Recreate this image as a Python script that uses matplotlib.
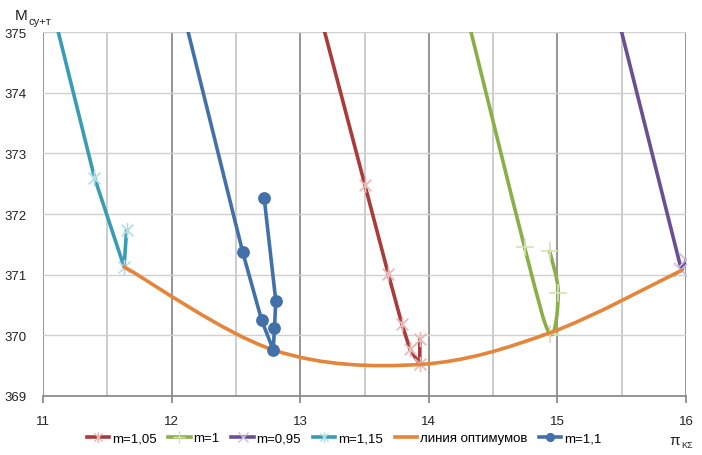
import numpy as np
import matplotlib
matplotlib.use('Agg')
from matplotlib import pyplot as plt
from matplotlib.path import Path
from matplotlib.patches import PathPatch
from matplotlib.lines import Line2D

# data (last point of each m series lies above the plot)
x_m105 = [13.93, 13.93, 13.854, 13.79, 13.685, 13.504, 13.128]
y_m105 = [369.94, 369.52, 369.77, 370.19, 371.01, 372.47, 375.5]

x_m100 = [14.94, 15.007, 14.94, 14.745, 14.27]
y_m100 = [371.39, 370.70, 370.03, 371.45, 375.5]

x_m095 = [16.0, 15.965, 15.44]
y_m095 = [371.24, 371.07, 375.5]

x_m115 = [11.65, 11.63, 11.40, 11.06]
y_m115 = [371.74, 371.13, 372.6, 375.5]

x_opt = [11.63, 12.79, 13.93, 14.94, 15.965]
y_opt = [371.13, 369.76, 369.52, 370.04, 371.07]

x_m110 = [12.72, 12.81, 12.80, 12.79, 12.70, 12.553, 12.07]
y_m110 = [372.26, 370.57, 370.12, 369.76, 370.25, 371.37, 375.5]

labels = ['m=1,05', 'm=1', 'm=0,95', 'm=1,15', 'линия оптимумов', 'm=1,1']

plt.rcParams['font.family'] = ['Liberation Sans', 'DejaVu Sans']

star = Path([(-1, -1), (1, 1), (-1, 1), (1, -1), (0, -1.3), (0, 1.3)],
            [Path.MOVETO, Path.LINETO, Path.MOVETO, Path.LINETO, Path.MOVETO, Path.LINETO])


def line_path(xs, ys, smooth):
    # excel-like smoothed line: bezier segments with catmull-rom tangents
    pts = np.column_stack([xs, ys])
    n = len(pts)
    if not smooth:
        return Path(pts)
    verts = [pts[0]]
    codes = [Path.MOVETO]
    for i in range(n - 1):
        p0 = pts[i - 1] if i > 0 else pts[i]
        p1 = pts[i]
        p2 = pts[i + 1]
        p3 = pts[i + 2] if i + 2 < n else pts[i + 1]
        verts += [p1 + (p2 - p0) / 6, p2 - (p3 - p1) / 6, p2]
        codes += [Path.CURVE4] * 3
    return Path(verts, codes)


series = [
    (x_m105, y_m105, '#A83C3A', '#e8b8b6', star, 11, False),
    (x_m100, y_m100, '#8AAE48', '#d3e3b5', '+', 13, True),
    (x_m095, y_m095, '#6C4F93', '#c9bcdb', 'x', 10, False),
    (x_m115, y_m115, '#3A9CB4', '#b2dce7', star, 11, False),
    (x_opt, y_opt, '#E5853A', None, None, 0, True),
    (x_m110, y_m110, '#4270A8', '#4270A8', 'o', 8, False),
]

fig = plt.figure(figsize=(7.02, 4.56), dpi=100)
ax = fig.add_axes([0.0613, 0.1294, 0.9159, 0.7982])

handles = []
for i, (xs, ys, col, mcol, mk, ms, smooth) in enumerate(series):
    patch = PathPatch(line_path(xs, ys, smooth), fill=False, edgecolor=col, lw=2.6,
                      capstyle='round', joinstyle='round', zorder=3 + i)
    ax.add_patch(patch)
    if mk is not None:
        ax.plot(xs, ys, linestyle='none', marker=mk, markersize=ms, color=mcol,
                markerfacecolor=mcol, markeredgewidth=1.2, zorder=3 + i + 0.5)
    handles.append(Line2D([], [], color=col, lw=2.6, marker=mk, markersize=ms * 0.7 if mk else 0,
                          markeredgecolor=mcol, markerfacecolor=mcol, markeredgewidth=1.0))

ax.set_xlim(11, 16)
ax.set_ylim(369, 375)
ax.set_xticks(np.arange(11, 16.1, 1))
ax.set_xticks(np.arange(11.5, 16, 1), minor=True)
ax.set_yticks(np.arange(369, 375.1, 1))
ax.grid(which='major', axis='x', color='#8c8c8c', lw=1.3)
ax.grid(which='minor', axis='x', color='#c8c8c8', lw=1.3)
ax.grid(which='major', axis='y', color='#d0d0d0', lw=1.0)
ax.set_axisbelow(True)
for s in ['top', 'right', 'left']:
    ax.spines[s].set_visible(False)
ax.spines['bottom'].set_color('#8c8c8c')
ax.spines['bottom'].set_linewidth(1.3)
ax.tick_params(axis='x', which='major', length=5, color='#8c8c8c', width=1.3,
               pad=9, labelsize=9.5, labelcolor='#222222')
ax.tick_params(axis='x', which='minor', length=0)
ax.tick_params(axis='y', length=0, pad=12, labelsize=9.5, labelcolor='#222222')

fig.text(15 / 702, 1 - 16 / 456, 'M', fontsize=11, va='center', ha='left', color='#222222')
fig.text(29 / 702, 1 - 22 / 456, 'су+т', fontsize=8, va='center', ha='left', color='#222222')
fig.text(669 / 702, 1 - 441 / 456, 'π', fontsize=11, va='center', ha='left', color='#222222')
fig.text(681 / 702, 1 - 446 / 456, 'KΣ', fontsize=6.5, va='center', ha='left', color='#222222')

fig.legend(handles, labels, loc='center', bbox_to_anchor=(344 / 702, 1 - 439 / 456), ncol=6,
           frameon=False, fontsize=9.5, handlelength=1.7, handletextpad=0.2,
           columnspacing=0.9, borderpad=0)

fig.savefig('out.png', dpi=100)
